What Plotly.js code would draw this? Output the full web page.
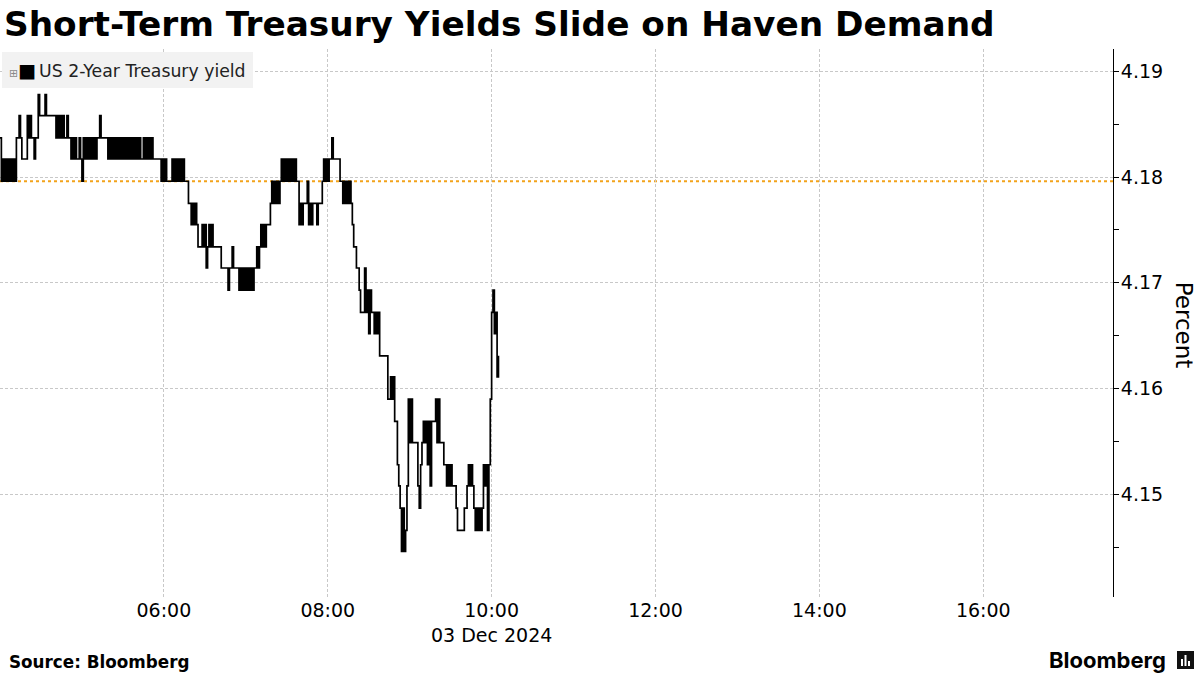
<!DOCTYPE html>
<html>
<head>
<meta charset="utf-8">
<script src="https://cdn.plot.ly/plotly-3.0.1.min.js"></script>
<style>
  html, body { margin: 0; padding: 0; background: #ffffff; }
  #chart { width: 1200px; height: 675px; }
</style>
</head>
<body>
<div id="chart"></div>
<script>
// ---------------- data ----------------
const chartTitle = 'Short-Term Treasury Yields Slide on Haven Demand';
const seriesName = 'US 2-Year Treasury yield';
const sessionDate = '2024-12-03';
const dateLabel = '03 Dec 2024';
const firstHour = 4;            // first observation at 04:00, one value per minute
const previousClose = 4.1796;   // dotted orange reference line

// 1-minute yields (percent), 04:00 .. 10:05
const yields = [
  // 04:00
  4.1837,4.1796,4.1817,4.1796,4.1817,4.1796,4.1817,4.1796,4.1817,4.1796,
  4.1817,4.1796,4.1837,4.1837,4.1858,4.1837,4.1817,4.1817,4.1817,4.1817,
  4.1858,4.1837,4.1858,4.1837,4.1837,4.1817,4.1837,4.1837,4.1878,4.1858,
  4.1858,4.1858,4.1858,4.1878,4.1858,4.1858,4.1858,4.1858,4.1858,4.1858,
  4.1858,4.1837,4.1858,4.1837,4.1858,4.1837,4.1858,4.1837,4.1837,4.1858,
  4.1837,4.1837,4.1817,4.1837,4.1817,4.1837,4.1817,4.1817,4.1837,4.1817,
  // 05:00
  4.1796,4.1837,4.1817,4.1837,4.1817,4.1837,4.1817,4.1837,4.1817,4.1837,
  4.1817,4.1837,4.1837,4.1858,4.1837,4.1837,4.1837,4.1837,4.1837,4.1817,
  4.1837,4.1817,4.1837,4.1817,4.1837,4.1817,4.1837,4.1817,4.1837,4.1817,
  4.1837,4.1817,4.1837,4.1817,4.1837,4.1817,4.1837,4.1817,4.1837,4.1817,
  4.1837,4.1817,4.1837,4.1817,4.1817,4.1837,4.1817,4.1837,4.1817,4.1837,
  4.1817,4.1837,4.1817,4.1817,4.1817,4.1817,4.1817,4.1817,4.1796,4.1817,
  // 06:00
  4.1796,4.1817,4.1796,4.1796,4.1796,4.1796,4.1817,4.1796,4.1817,4.1796,
  4.1817,4.1796,4.1817,4.1796,4.1817,4.1796,4.1796,4.1796,4.1775,4.1775,
  4.1755,4.1775,4.1755,4.1775,4.1755,4.1734,4.1734,4.1734,4.1755,4.1734,
  4.1755,4.1714,4.1734,4.1755,4.1734,4.1755,4.1734,4.1734,4.1734,4.1734,
  4.1734,4.1734,4.1714,4.1714,4.1714,4.1714,4.1714,4.1693,4.1714,4.1714,
  4.1734,4.1714,4.1714,4.1714,4.1714,4.1693,4.1714,4.1693,4.1714,4.1693,
  // 07:00
  4.1714,4.1693,4.1714,4.1693,4.1714,4.1693,4.1714,4.1714,4.1734,4.1714,
  4.1734,4.1755,4.1734,4.1755,4.1734,4.1755,4.1755,4.1755,4.1775,4.1796,
  4.1775,4.1796,4.1775,4.1796,4.1775,4.1796,4.1817,4.1796,4.1817,4.1796,
  4.1817,4.1796,4.1817,4.1796,4.1817,4.1796,4.1817,4.1796,4.1796,4.1755,
  4.1775,4.1755,4.1775,4.1775,4.1775,4.1796,4.1755,4.1775,4.1755,4.1775,
  4.1775,4.1775,4.1755,4.1775,4.1775,4.1775,4.1796,4.1817,4.1796,4.1817,
  // 08:00
  4.1796,4.1817,4.1817,4.1837,4.1817,4.1817,4.1817,4.1817,4.1817,4.1796,
  4.1796,4.1775,4.1796,4.1775,4.1796,4.1775,4.1796,4.1775,4.1755,4.1734,
  4.1734,4.1714,4.1714,4.1693,4.1672,4.1672,4.1672,4.1714,4.1672,4.1693,
  4.1652,4.1693,4.1672,4.1672,4.1652,4.1672,4.1652,4.1672,4.1631,4.1631,
  4.1631,4.1631,4.1631,4.1631,4.1590,4.1590,4.1611,4.1590,4.1611,4.1569,
  4.1569,4.1528,4.1508,4.1487,4.1446,4.1487,4.1446,4.1466,4.1508,4.1590,
  // 09:00
  4.1549,4.1590,4.1549,4.1549,4.1549,4.1549,4.1508,4.1487,4.1528,4.1549,
  4.1569,4.1549,4.1569,4.1528,4.1569,4.1508,4.1569,4.1569,4.1569,4.1590,
  4.1549,4.1590,4.1549,4.1549,4.1549,4.1528,4.1528,4.1508,4.1528,4.1508,
  4.1528,4.1508,4.1508,4.1508,4.1487,4.1466,4.1466,4.1466,4.1466,4.1466,
  4.1487,4.1487,4.1508,4.1528,4.1508,4.1528,4.1508,4.1487,4.1466,4.1487,
  4.1466,4.1487,4.1466,4.1487,4.1528,4.1508,4.1528,4.1466,4.1528,4.1590,
  // 10:00
  4.1672,4.1693,4.1652,4.1672,4.1611,4.1631
];

const axisStart = '04:00';
const axisEnd = '17:35';
const tickTimes  = ['04:00', '06:00', '08:00', '10:00', '12:00', '14:00', '16:00'];
const tickLabels = ['', '06:00', '08:00', '10:00<br>' + dateLabel, '12:00', '14:00', '16:00'];
const yRange = [4.1403, 4.1921];
const yTick0 = 4.15, yDtick = 0.01, yMinorDtick = 0.005;

// ---------------- build ----------------
function stamp(hm) { return sessionDate + ' ' + hm; }
function minuteStamp(i) {
  const h = firstHour + Math.floor(i / 60), m = i % 60;
  return stamp(String(h).padStart(2, '0') + ':' + String(m).padStart(2, '0'));
}
const times = yields.map((_, i) => minuteStamp(i));

const W = 1200, H = 675;
const M = { l: 0, r: 87, t: 49, b: 78 };
const PW = W - M.l - M.r, PH = H - M.t - M.b;
const px = x => (x - M.l) / PW;          // pixel -> paper x
const py = y => (H - M.b - y) / PH;      // pixel -> paper y

const FONT = 'DejaVu Sans';

const trace = {
  type: 'scatter', mode: 'lines', name: seriesName,
  x: times, y: yields,
  line: { color: '#000000', width: 1.7, shape: 'hv' },
  hoverinfo: 'skip', showlegend: false
};

const gridColor = '#c8c8c8';

const layout = {
  width: W, height: H,
  margin: M,
  paper_bgcolor: '#ffffff', plot_bgcolor: '#ffffff',
  showlegend: false,
  title: {
    text: chartTitle,
    font: { family: FONT, size: 34.3, weight: 700, color: '#000000' },
    x: 4 / W, xanchor: 'left', xref: 'container',
    y: 1 - 24 / H, yanchor: 'middle', yref: 'container'
  },
  xaxis: {
    type: 'date',
    range: [stamp(axisStart), stamp(axisEnd)],
    tickmode: 'array', tickvals: tickTimes.map(stamp), ticktext: tickLabels,
    showgrid: true, gridcolor: gridColor, gridwidth: 1, griddash: '3px,2px',
    showline: false, zeroline: false, ticks: '',
    tickfont: { family: FONT, size: 19, color: '#000000' },
    fixedrange: true
  },
  yaxis: {
    side: 'right', range: yRange,
    tick0: yTick0, dtick: yDtick, tickformat: '.2f',
    showgrid: true, gridcolor: gridColor, gridwidth: 1, griddash: '3px,2px',
    showline: true, linecolor: '#000000', linewidth: 1,
    ticks: 'outside', ticklen: 5, tickcolor: '#000000', tickwidth: 1,
    ticklabelstandoff: -2,
    minor: { dtick: yMinorDtick, ticks: 'outside', ticklen: 5, tickcolor: '#000000', showgrid: false },
    zeroline: false,
    tickfont: { family: FONT, size: 19, color: '#000000' },
    fixedrange: true
  },
  shapes: [
    { type: 'line', xref: 'paper', x0: 0, x1: 1, yref: 'y', y0: previousClose, y1: previousClose,
      line: { color: '#f2a31b', width: 1.8, dash: 'dot' }, layer: 'below' },
    // Bloomberg mark
    { type: 'rect', xref: 'paper', yref: 'paper', x0: px(1177), x1: px(1194), y0: py(669), y1: py(651),
      fillcolor: '#111111', line: { width: 0 } },
    { type: 'rect', xref: 'paper', yref: 'paper', x0: px(1181), x1: px(1183), y0: py(666), y1: py(659),
      fillcolor: '#ffffff', line: { width: 0 } },
    { type: 'rect', xref: 'paper', yref: 'paper', x0: px(1184.5), x1: px(1186.5), y0: py(666), y1: py(655),
      fillcolor: '#ffffff', line: { width: 0 } },
    { type: 'rect', xref: 'paper', yref: 'paper', x0: px(1188), x1: px(1190), y0: py(666), y1: py(661),
      fillcolor: '#ffffff', line: { width: 0 } }
  ],
  annotations: [
    // legend box
    { xref: 'paper', yref: 'paper', x: px(2), y: py(52), xanchor: 'left', yanchor: 'top',
      text: '<span style="font-size:11px;color:#8a8a8a">⊞</span><span style="font-size:19px;color:#000">■</span><span style="font-size:9px"> </span>' + seriesName,
      showarrow: false, align: 'left',
      font: { family: FONT, size: 17.3, color: '#222222' },
      bgcolor: '#f2f2f2', borderpad: 7, borderwidth: 0 },
    // y-axis title
    { xref: 'paper', yref: 'paper', x: px(1184), y: 0.495, xanchor: 'center', yanchor: 'middle',
      text: 'Percent', textangle: 90, showarrow: false,
      font: { family: FONT, size: 23, color: '#000000' } },
    // source
    { xref: 'paper', yref: 'paper', x: px(7), y: py(662), xanchor: 'left', yanchor: 'middle',
      text: 'Source: Bloomberg', showarrow: false,
      font: { family: FONT, size: 16.8, weight: 700, color: '#000000' } },
    // logo wordmark
    { xref: 'paper', yref: 'paper', x: px(1168), y: py(660), xanchor: 'right', yanchor: 'middle',
      text: 'Bloomberg', showarrow: false,
      font: { family: 'Inter', size: 22, weight: 700, color: '#000000' } }
  ]
};

Plotly.newPlot('chart', [trace], layout, { staticPlot: true, displayModeBar: false });
</script>
</body>
</html>
